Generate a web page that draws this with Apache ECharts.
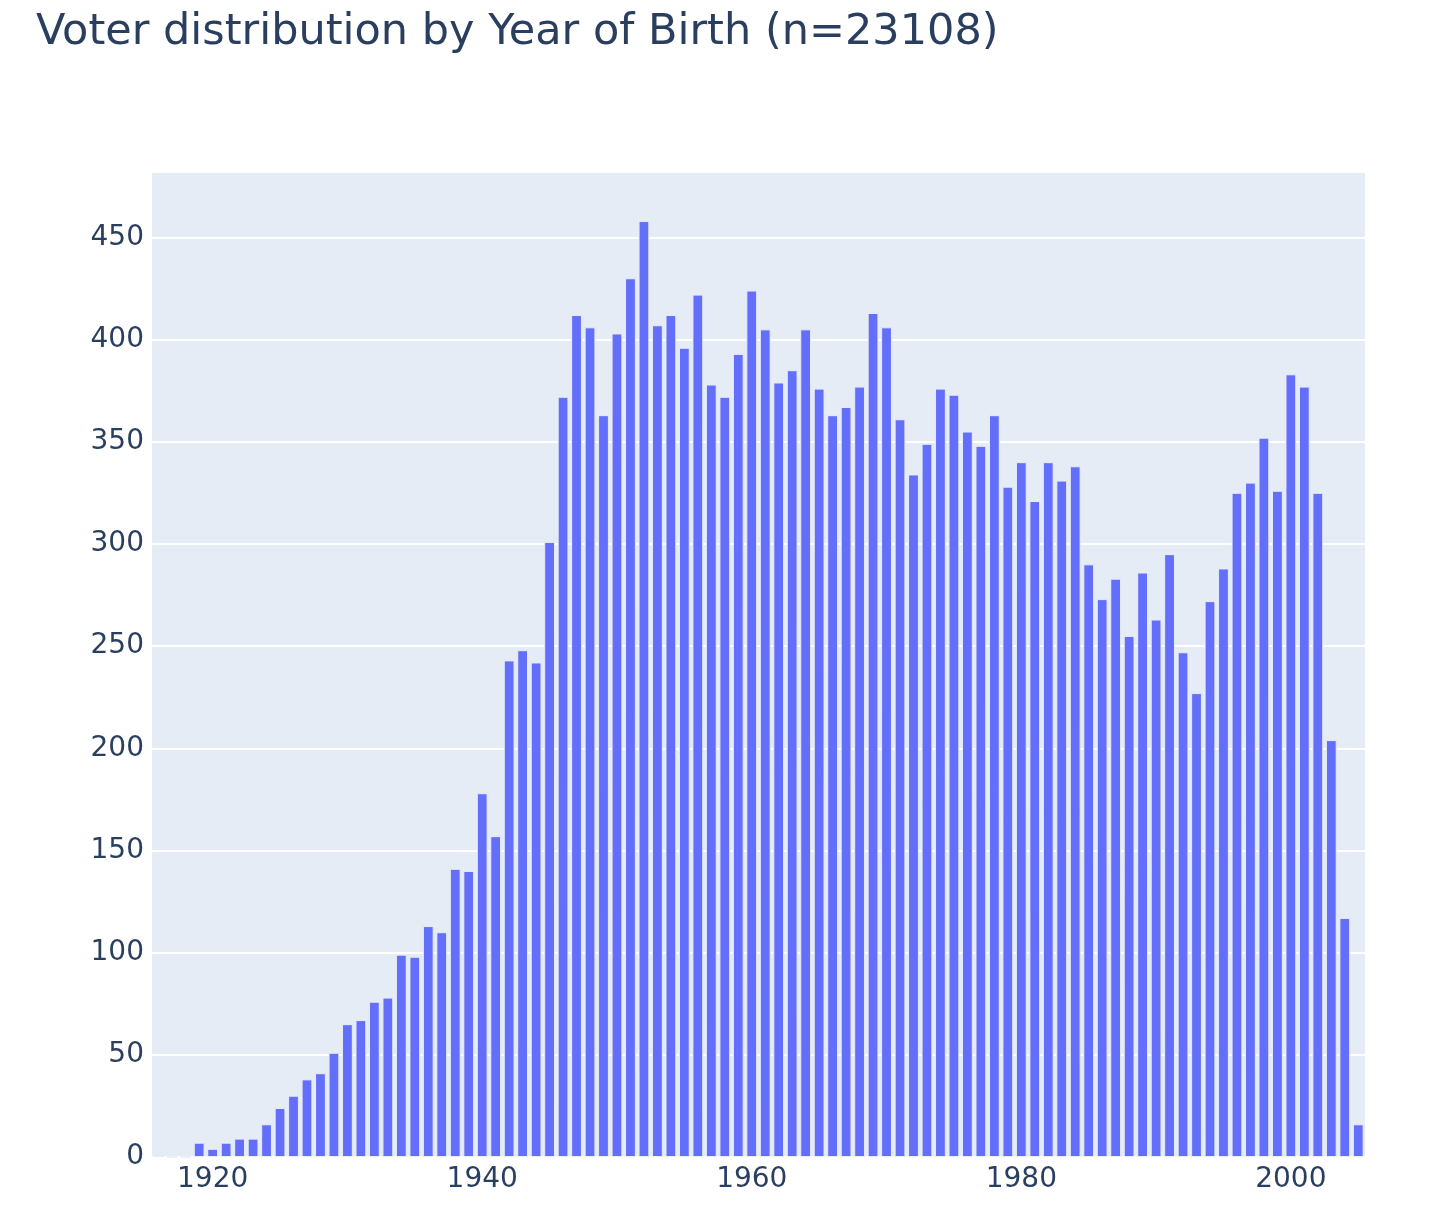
<!DOCTYPE html>
<html>
<head>
<meta charset="utf-8">
<script src="https://cdn.jsdelivr.net/npm/echarts@6/dist/echarts.min.js"></script>
<style>
html,body{margin:0;padding:0;background:#fff;}
#chart{width:1438px;height:1228px;}
</style>
</head>
<body>
<div id="chart"></div>
<script>
const years = [];
for (let y = 1916; y <= 2005; y++) years.push(String(y));

const counts = [
  1, 0, 0, 7, 4, 7, 9, 9, 16, 24, 30, 38, 41, 51, 65, 67,
  76, 78, 99, 98, 113, 110, 141, 140, 178, 157,
  243, 248, 242, 301, 372, 412, 406, 363, 403, 430,
  458, 407, 412, 396, 422, 378, 372, 393, 424, 405,
  379, 385, 405, 376, 363, 367, 377, 413, 406, 361,
  334, 349, 376, 373, 355, 348, 363, 328, 340, 321,
  340, 331, 338, 290, 273, 283, 255, 286, 263, 295,
  247, 227, 272, 288, 325, 330, 352, 326, 383, 377,
  325, 204, 117, 16
];

const titleText = 'Voter distribution by Year of Birth (n=23108)';
const yMax = 482;
const yInterval = 50;
const fontFam = 'DejaVu Sans';

const chart = echarts.init(document.getElementById('chart'));
chart.setOption({
  animation: false,
  backgroundColor: '#ffffff',
  title: {
    text: titleText,
    left: 31,
    top: 6,
    textStyle: {
      fontFamily: fontFam,
      fontSize: 43,
      fontWeight: 'normal',
      color: '#2a3f5f'
    }
  },
  grid: {
    left: 152,
    right: 73,
    top: 172,
    bottom: 71,
    show: true,
    backgroundColor: '#E5ECF6',
    borderWidth: 0
  },
  xAxis: {
    type: 'category',
    data: years,
    boundaryGap: true,
    axisLine: { show: false },
    axisTick: { show: false },
    splitLine: { show: false },
    axisLabel: {
      interval: function (index, value) { return Number(value) % 20 === 0; },
      fontFamily: fontFam,
      fontSize: 28,
      color: '#2a3f5f',
      margin: 9
    }
  },
  yAxis: {
    type: 'value',
    min: 0,
    max: yMax,
    interval: yInterval,
    axisLine: { show: false },
    axisTick: { show: false },
    splitLine: { show: true, lineStyle: { color: '#ffffff', width: 2 } },
    axisLabel: {
      showMaxLabel: false,
      fontFamily: fontFam,
      fontSize: 28,
      color: '#2a3f5f',
      margin: 8
    }
  },
  series: [{
    type: 'bar',
    data: counts,
    barCategoryGap: '20%',
    itemStyle: {
      color: '#636efa',
      borderColor: '#E5ECF6',
      borderWidth: 1
    }
  }]
});
</script>
</body>
</html>
